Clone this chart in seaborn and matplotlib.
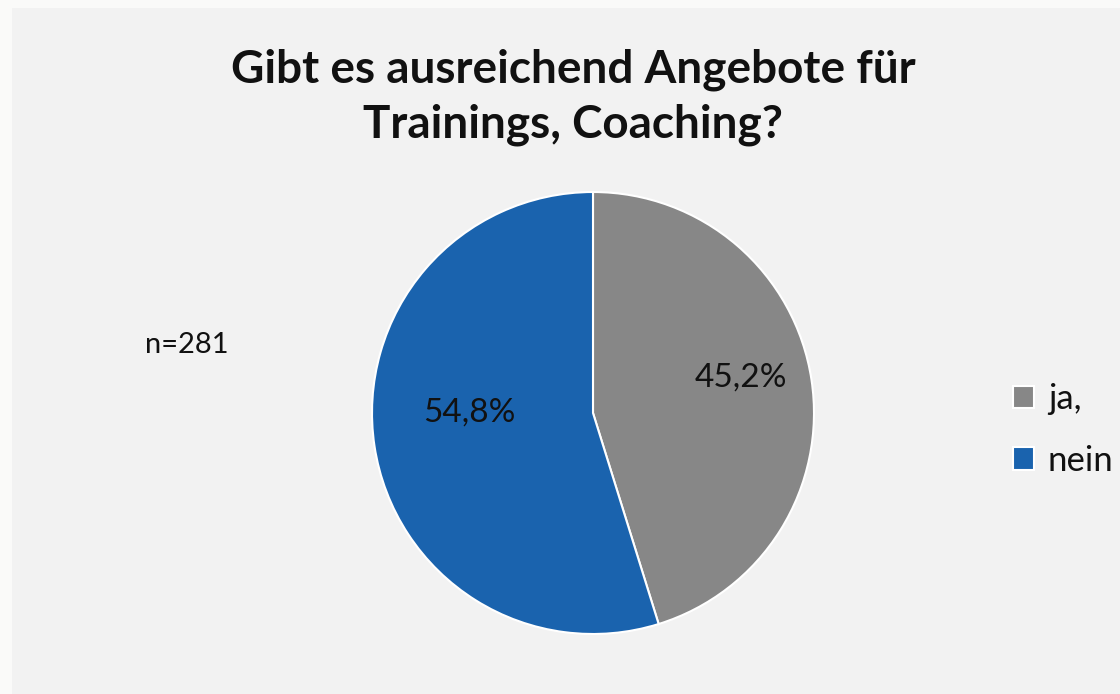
import matplotlib
matplotlib.use("Agg")
import matplotlib.pyplot as plt
import seaborn as sns
from matplotlib.patches import Rectangle

# Survey result data
categories = ["ja,", "nein"]
shares = [45.2, 54.8]
value_labels = ["45,2%", "54,8%"]
sample_note = "n=281"
title = "Gibt es ausreichend Angebote für\nTrainings, Coaching?"
colors = ["#878787", "#1a63ae"]

sns.set_theme(style="white")
plt.rcParams["font.family"] = ["Lato", "DejaVu Sans"]

W, H = 1120, 694
fig = plt.figure(figsize=(W / 100, H / 100), dpi=100)
fig.patch.set_facecolor("#fafaf9")
# inner chart panel
fig.add_artist(Rectangle((12 / W, 0), 1 - 12 / W, 1 - 8 / H, transform=fig.transFigure,
                         facecolor="#f2f2f2", edgecolor="none", zorder=0))

cx, cy, r = 593, 413, 221
ax = fig.add_axes([(cx - r) / W, (H - cy - r) / H, 2 * r / W, 2 * r / H])
ax.set_facecolor("none")

wedges, _ = ax.pie(shares, colors=colors, startangle=90, counterclock=False,
                   wedgeprops=dict(edgecolor="white", linewidth=1.5))
ax.set_xlim(-1, 1)
ax.set_ylim(-1, 1)
ax.set_aspect("auto")
ax.axis("off")

# percentage labels inside the slices
label_pos = [(0.67, 0.16), (-0.56, 0.0)]
for (x, y), txt in zip(label_pos, value_labels):
    ax.text(x, y, txt, ha="center", va="center", fontsize=24, color="#111111")

fig.text(573 / W, 1 - 97 / H, title, ha="center", va="center", fontsize=33,
         fontweight="bold", color="#111111", linespacing=1.37)
fig.text(145 / W, 1 - 345 / H, sample_note, ha="left", va="center", fontsize=21,
         color="#111111")

leg = fig.legend(wedges, categories, loc="center left",
                 bbox_to_anchor=(982 / W, 1 - 430 / H), frameon=False,
                 fontsize=25, handlelength=0.6, handleheight=0.6,
                 handletextpad=0.4, labelspacing=0.85)
for t in leg.get_texts():
    t.set_color("#111111")

fig.savefig("out.png", dpi=100, facecolor=fig.get_facecolor())
